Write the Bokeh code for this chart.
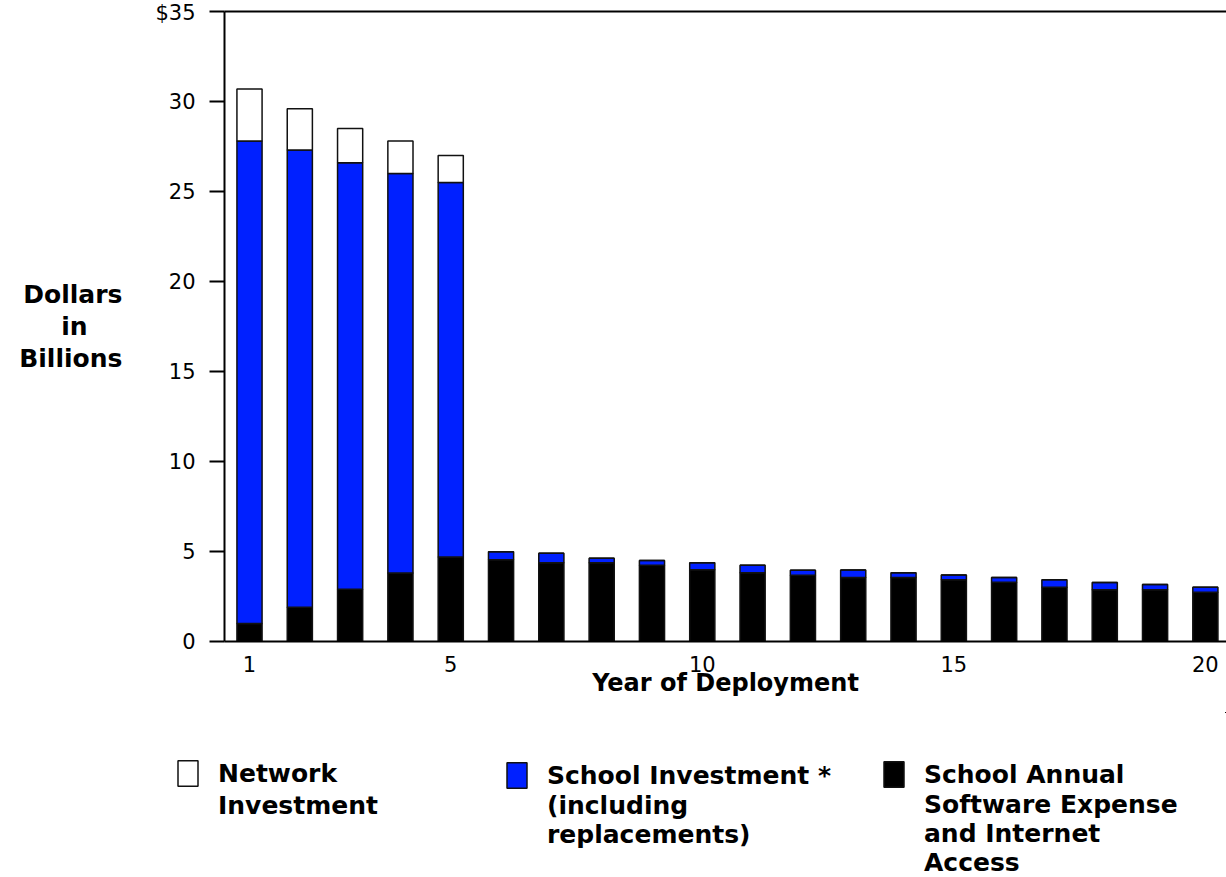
from bokeh.plotting import figure
from bokeh.layouts import column, row
from bokeh.models import (Range1d, FixedTicker, LinearAxis, Legend, LegendItem,
                          ColumnDataSource)
from bokeh.embed import file_html
from bokeh.resources import INLINE

years = list(range(1, 21))
network = [2.9, 2.3, 1.9, 1.8, 1.5] + [0.0] * 15
school = [26.8, 25.4, 23.7, 22.2, 20.8, 0.45, 0.53, 0.26, 0.26, 0.39,
          0.42, 0.28, 0.41, 0.26, 0.26, 0.26, 0.41, 0.41, 0.29, 0.28]
software = [1.0, 1.9, 2.9, 3.8, 4.7, 4.54, 4.37, 4.37, 4.24, 3.98,
            3.82, 3.68, 3.56, 3.56, 3.43, 3.29, 3.02, 2.87, 2.87, 2.74]
y_ticks = [0, 5, 10, 15, 20, 25, 30, 35]
x_ticks = [1, 5, 10, 15, 20]
series = ["software", "school", "network"]
legend_lines = {
    "network": ["Network", "Investment"],
    "school": ["School Investment *", "(including", "replacements)"],
    "software": ["School Annual", "Software Expense", "and Internet", "Access"],
}
colors = {"software": "#000000", "school": "#0020ff", "network": "#ffffff"}

src = ColumnDataSource(dict(year=years, network=network, school=school, software=software))

FONT = "DejaVu Sans"
W = 1226
H1 = 712
H2 = 877 - H1
LEFT = 224

p = figure(width=W, height=H1, x_range=Range1d(0.503, 20.42), y_range=Range1d(0, 35),
           output_backend="svg", toolbar_location=None,
           min_border_left=LEFT, min_border_right=0, min_border_top=11,
           min_border_bottom=H1 - 641)
p.xgrid.visible = False
p.ygrid.visible = False
p.outline_line_color = None

p.vbar_stack(series, x="year", width=0.5, source=src,
             fill_color=[colors[s] for s in series],
             line_color="#111111", line_width=1.5)

ya = p.yaxis[0]
ya.ticker = FixedTicker(ticks=y_ticks, minor_ticks=[])
ya.major_label_overrides = {35: "$35"}
ya.major_tick_out = 15
ya.major_tick_in = 0
ya.minor_tick_out = 0
ya.minor_tick_in = 0
ya.axis_line_width = 2
ya.major_tick_line_width = 2
ya.major_label_text_font = FONT
ya.major_label_text_font_size = "21px"
ya.major_label_text_color = "black"
ya.major_label_standoff = 14
ya.axis_label = "Dollars\nin\u00a0\u00a0\u00a0\u00a0\nBillions"
ya.axis_label_orientation = "horizontal"
ya.axis_label_text_font = FONT
ya.axis_label_text_font_style = "bold"
ya.axis_label_text_font_size = "25px"
ya.axis_label_text_line_height = 1.1
ya.axis_label_text_color = "black"
ya.axis_label_standoff = 30

xa = p.xaxis[0]
xa.ticker = FixedTicker(ticks=x_ticks, minor_ticks=[])
xa.major_tick_out = 0
xa.major_tick_in = 0
xa.minor_tick_out = 0
xa.minor_tick_in = 0
xa.axis_line_width = 2
xa.major_label_text_font = FONT
xa.major_label_text_font_size = "21px"
xa.major_label_text_color = "black"
xa.major_label_standoff = 14
xa.axis_label = "Year of Deployment"
xa.axis_label_text_font = FONT
xa.axis_label_text_font_style = "bold"
xa.axis_label_text_font_size = "24px"
xa.axis_label_text_color = "black"
xa.axis_label_standoff = -6

top = LinearAxis(ticker=FixedTicker(ticks=[], minor_ticks=[]), major_tick_out=0, major_tick_in=0,
                 minor_tick_out=0, minor_tick_in=0, axis_line_width=2,
                 major_label_text_font_size="0px", major_label_standoff=0)
p.add_layout(top, "above")

# legend panel below the chart (its bars lie outside its view; only the key shows)
q = figure(width=W, height=H2, x_range=Range1d(-100, -99), y_range=Range1d(-2, -1),
           output_backend="svg", toolbar_location=None,
           min_border_left=0, min_border_right=0, min_border_top=0, min_border_bottom=0)
q.axis.visible = False
q.grid.visible = False
q.outline_line_color = None

sw = q.vbar_stack(series, x="year", width=0.5, source=src,
                  fill_color=[colors[s] for s in series],
                  line_color="#111111", line_width=1.5)
swatch = dict(zip(series, sw))

LINE_HEIGHT = 1.1
LINE_H = 25 * LINE_HEIGHT
GLYPH_W = 25
GLYPH_H = 32
LEG_TOP = 50  # px from top of the legend panel


def make_legend(key, x):
    lines = legend_lines[key]
    items = [LegendItem(label=lines[0], renderers=[swatch[key]])]
    if len(lines) > 1:
        items.append(LegendItem(label="\n".join(lines[1:]), renderers=[]))
    h = GLYPH_H + LINE_H * (len(lines) - 1)
    leg = Legend(items=items, location=(x, round(H2 - LEG_TOP - h)), orientation="vertical",
                 glyph_width=GLYPH_W, glyph_height=GLYPH_H, label_standoff=18,
                 padding=0, margin=0, spacing=0, label_height=20,
                 border_line_color=None, background_fill_alpha=0,
                 label_text_font=FONT, label_text_font_style="bold",
                 label_text_font_size="25px", label_text_line_height=LINE_HEIGHT,
                 label_text_color="black")
    q.add_layout(leg)


make_legend("network", 175)
make_legend("school", 504)
make_legend("software", 881)

layout = column(row(p), q, spacing=0)
open("out.html", "w").write(file_html(layout, INLINE))
